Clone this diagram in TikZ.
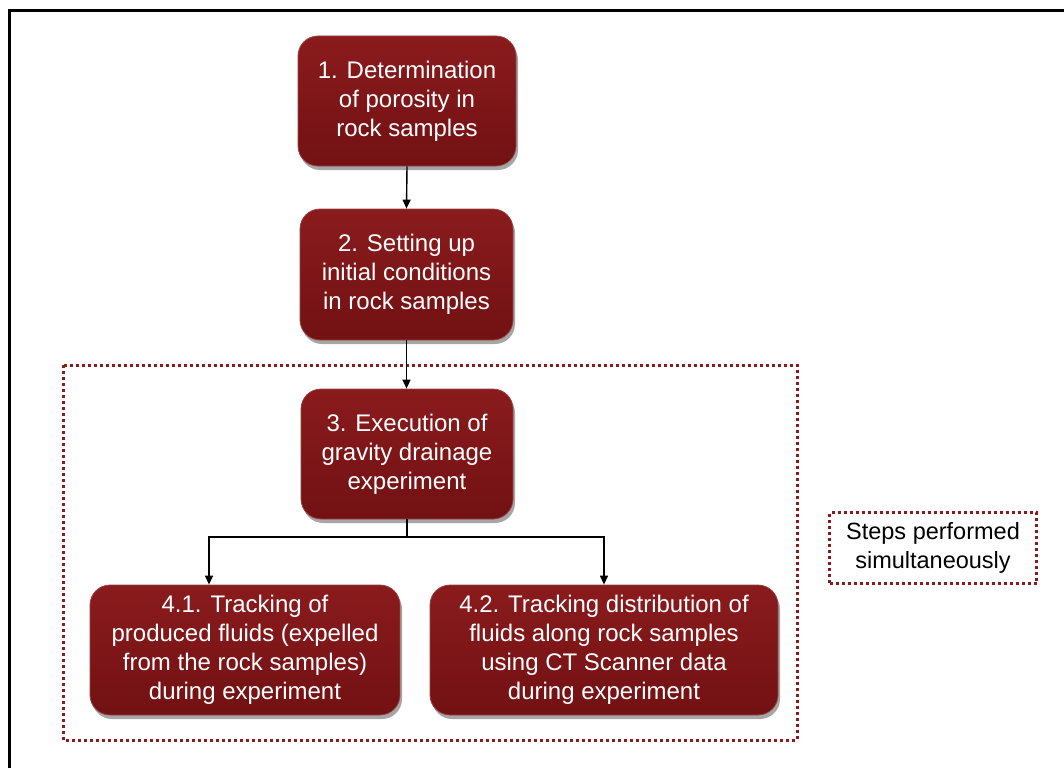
\documentclass[tikz,border=0pt]{standalone}
\usepackage{fontspec}
\setmainfont{Liberation Sans}
\usetikzlibrary{arrows.meta,shadows,positioning}
\definecolor{boxred}{HTML}{7E1416}
\definecolor{boxtop}{HTML}{8A1B1D}
\definecolor{boxbot}{HTML}{721113}
\definecolor{dotred}{HTML}{8B1A1A}
\tikzset{
  stepbox/.style={rounded corners=20pt, top color=boxtop, bottom color=boxbot, draw=boxred!80!white, line width=0.8pt,
    text=white, align=center, font=\fontsize{24}{29}\selectfont, inner sep=0pt,
    drop shadow={shadow xshift=2pt, shadow yshift=-4pt, opacity=0.35, fill=black}},
  conn/.style={line width=1.4pt, -{Triangle[length=9pt,width=8pt]}},
  dotbox/.style={draw=dotred, line width=3pt, dash pattern=on 3pt off 3pt},
}
\begin{document}
\begin{tikzpicture}[x=1pt,y=-1pt]
\useasboundingbox (0,0) rectangle (1064,768);
\fill[white] (0,0) rectangle (1064,768);
% frame
\draw[line width=3pt] (9,768) -- (9,11) -- (1064,11);
% dotted group
\draw[dotbox] (63,365) rectangle (797,740);
\node[dotbox, minimum width=207pt, minimum height=71pt, align=center, font=\fontsize{23.5}{29}\selectfont] (note) at (933,548) {Steps performed\\simultaneously};
% boxes
\node[stepbox, minimum width=218pt, minimum height=130pt] (b1) at (407,101) {1. Determination\\of porosity in\\rock samples};
\node[stepbox, minimum width=213pt, minimum height=131pt] (b2) at (406.5,274.5) {2. Setting up\\initial conditions\\in rock samples};
\node[stepbox, minimum width=212pt, minimum height=130pt] (b3) at (407,454) {3. Execution of\\gravity drainage\\experiment};
\node[stepbox, minimum width=310pt, minimum height=130pt] (b41) at (245,650) {4.1. Tracking of\\produced fluids (expelled\\from the rock samples)\\during experiment};
\node[stepbox, minimum width=348pt, minimum height=130pt] (b42) at (604,650) {4.2. Tracking distribution of\\fluids along rock samples\\using CT Scanner data\\during experiment};
% connectors
\draw[conn] (b1.south) -- (b2.south |- b2.north);
\draw[conn] (b2.south) -- (b3.north -| b2.south);
\coordinate (split) at (407,537);
\draw[line width=1.4pt] (b3.south) -- (split);
\draw[conn] (split) -| (b41.north -| 209,0);
\draw[conn] (split) -| (b42.north);
\end{tikzpicture}
\end{document}
